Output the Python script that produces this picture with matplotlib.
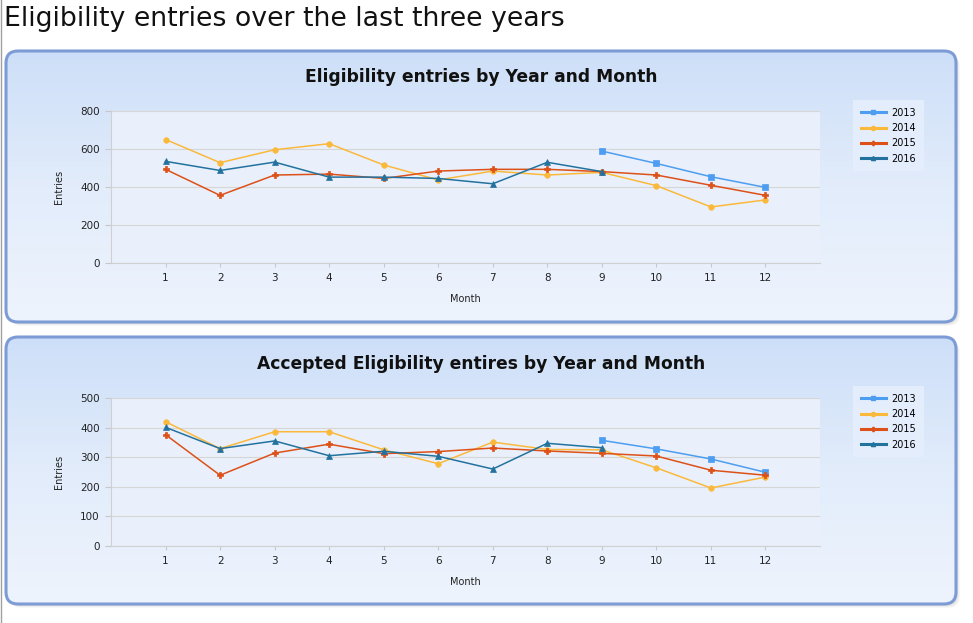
import numpy as np
import matplotlib
matplotlib.use('Agg')
import matplotlib.pyplot as plt
from matplotlib.patches import FancyBboxPatch
from matplotlib.lines import Line2D
from matplotlib.colors import LinearSegmentedColormap

nan = np.nan
months = list(range(1, 13))
years = ['2013', '2014', '2015', '2016']

# Eligibility entries
entries_2013 = [nan, nan, nan, nan, nan, nan, nan, nan, 589, 524, 454, 398]
entries_2014 = [650, 528, 596, 628, 516, 437, 484, 463, 477, 407, 295, 332]
entries_2015 = [493, 356, 463, 468, 445, 484, 493, 493, 481, 463, 409, 356]
entries_2016 = [535, 487, 531, 452, 452, 445, 417, 530, 481, nan, nan, nan]

# Accepted eligibility entries
accepted_2013 = [nan, nan, nan, nan, nan, nan, nan, nan, 357, 328, 294, 249]
accepted_2014 = [420, 329, 386, 386, 325, 278, 351, 326, 325, 264, 196, 233]
accepted_2015 = [376, 239, 314, 344, 312, 319, 331, 321, 313, 304, 256, 239]
accepted_2016 = [401, 329, 355, 305, 320, 303, 260, 347, 332, nan, nan, nan]

page_title = "Eligibility entries over the last three years"
title1 = "Eligibility entries by Year and Month"
title2 = "Accepted Eligibility entires by Year and Month"

colors = {'2013': '#4d9df0', '2014': '#fbb93c', '2015': '#dd5118', '2016': '#23729e'}
markers = {'2013': 's', '2014': 'o', '2015': 'P', '2016': '^'}
msizes = {'2013': 4.5, '2014': 4, '2015': 4, '2016': 4.5}

W, H = 973, 623
fig = plt.figure(figsize=(W / 100, H / 100), dpi=100)
fig.patch.set_facecolor('white')

bg = fig.add_axes([0, 0, 1, 1])
bg.set_xlim(0, W)
bg.set_ylim(H, 0)
bg.axis('off')

# left thin line
bg.plot([1, 1], [0, H], color='#a0a0a0', lw=1)

bg.text(4, 19, page_title, fontsize=19.3, va='center', ha='left', color='#111111')

cmap = LinearSegmentedColormap.from_list('pan', ['#cddff8', '#e2ecfb', '#eef4fd'])
grad = np.linspace(0, 1, 256).reshape(-1, 1)

def panel(x0, y0, x1, y1):
    # shadow
    for i, a in enumerate([0.10, 0.08, 0.06]):
        off = 2 + i
        sh = FancyBboxPatch((x0 + off, y0 + off), x1 - x0, y1 - y0,
                            boxstyle="round,pad=0,rounding_size=12",
                            facecolor='#808080', edgecolor='none', alpha=a, zorder=1)
        bg.add_patch(sh)
    p = FancyBboxPatch((x0, y0), x1 - x0, y1 - y0,
                       boxstyle="round,pad=0,rounding_size=12",
                       facecolor='none', edgecolor='#7d9cd6', lw=2.2, zorder=3)
    bg.add_patch(p)
    im = bg.imshow(grad, extent=[x0, x1, y1, y0], cmap=cmap, aspect='auto', zorder=2)
    clip = FancyBboxPatch((x0, y0), x1 - x0, y1 - y0,
                          boxstyle="round,pad=0,rounding_size=12",
                          facecolor='none', edgecolor='none', transform=bg.transData)
    im.set_clip_path(clip)

panel(6, 51, 956, 322)
panel(6, 337, 956, 604)
bg.set_xlim(0, W)
bg.set_ylim(H, 0)

def make_axes(top, bottom, ymax, ystep, data, title, title_y, leg_top):
    ax = fig.add_axes([111 / W, (H - bottom) / H, 709 / W, (bottom - top) / H])
    ax.set_facecolor('#e9f0fb')
    for y, vals in zip(years, data):
        ax.plot(months, vals, color=colors[y], marker=markers[y], ms=msizes[y],
                lw=1.1, markeredgewidth=0.5, label=y)
    ax.set_xlim(0, 13)
    ax.set_ylim(0, ymax)
    ax.set_xticks(months)
    ax.set_yticks(np.arange(0, ymax + 1, ystep))
    ax.grid(axis='y', color='#d6d6d6', lw=0.8)
    ax.set_axisbelow(True)
    for s in ['top', 'right']:
        ax.spines[s].set_visible(False)
    for s in ['left', 'bottom']:
        ax.spines[s].set_color('#d0d0d0')
    ax.tick_params(axis='both', labelsize=7.5, colors='#222222', width=0.8)
    ax.tick_params(axis='both', color='#c8c8c8')
    ax.tick_params(axis='y', length=4, pad=4)
    ax.tick_params(axis='x', length=3, pad=4)
    ax.set_ylabel('Entries', fontsize=7, labelpad=12, color='#222222')
    ax.set_xlabel('Month', fontsize=7, labelpad=8, color='#222222')
    bg.text(481, title_y, title, fontsize=12.3, fontweight='bold', ha='center', va='center',
            color='#111111', zorder=5)
    handles = [Line2D([0], [0], color=colors[y], marker=markers[y], ms=3, lw=2.2) for y in years]
    leg = fig.legend(handles, years, loc='upper left',
                     bbox_to_anchor=(848 / W, (H - leg_top + 5) / H), fontsize=7,
                     frameon=True, fancybox=False, handlelength=2.6, borderpad=0.8,
                     labelspacing=0.55, handletextpad=0.6)
    leg.get_frame().set_facecolor('#e4edfb')
    leg.get_frame().set_edgecolor('none')
    leg.get_frame().set_alpha(1)
    return ax

make_axes(111, 263, 800, 200, [entries_2013, entries_2014, entries_2015, entries_2016],
          title1, 77, 100)
make_axes(398, 546, 500, 100, [accepted_2013, accepted_2014, accepted_2015, accepted_2016],
          title2, 364, 386)

fig.savefig('out.png', dpi=100)
